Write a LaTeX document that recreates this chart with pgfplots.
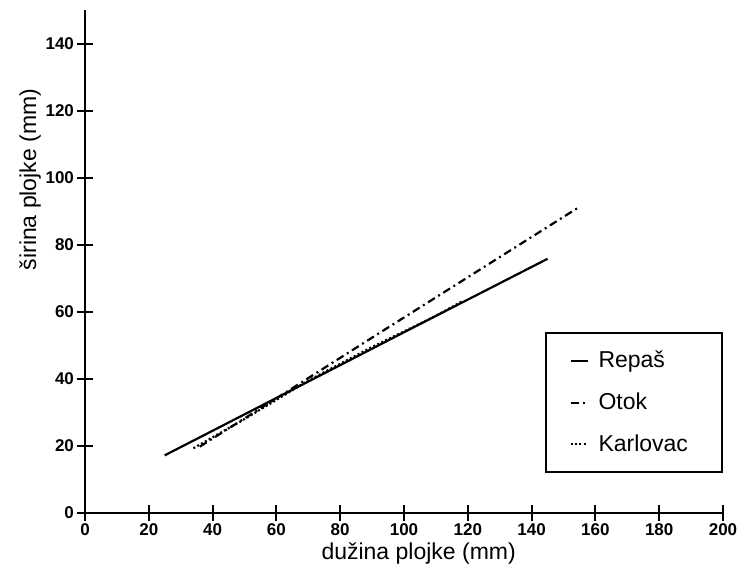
\documentclass[border=0pt]{standalone}
\usepackage{pgfplots}
\pgfplotsset{compat=1.18}
\usepackage{fontspec}
\setmainfont{Liberation Sans}

\begin{document}
\begin{tikzpicture}
\useasboundingbox (-42.5pt,-32pt) rectangle (329pt,256.5pt);
\begin{axis}[
    at={(0,0)}, anchor=south west,
    scale only axis,
    width=319pt, height=251.5pt,
    xmin=0, xmax=200, ymin=0, ymax=150,
    axis lines=left,
    axis line style={-, line width=1pt},
    xtick={0,20,...,200},
    ytick={0,20,...,140},
    tick align=center,
    major tick length=8pt,
    tick style={line width=1pt, black},
    /pgf/number format/assume math mode=true,
    ticklabel style={font=\bfseries\fontsize{8.5}{10}\selectfont},
    xticklabel style={yshift=2pt},
    yticklabel style={xshift=2pt},
    xlabel={dužina plojke (mm)},
    ylabel={širina plojke (mm)},
    label style={font=\fontsize{11.5}{13}\selectfont},
    xlabel style={at={(axis description cs:0.523,-0.08)}, anchor=center},
    ylabel style={at={(axis description cs:-0.086,0.663)}, anchor=center},
    clip=false,
    legend cell align=left,
    legend style={at={(axis description cs:1,0.0795)}, anchor=south east,
        draw=black, line width=1pt, inner xsep=12pt, inner ysep=7pt,
        row sep=7pt, font=\fontsize{11.5}{13}\selectfont,
        nodes={inner xsep=5pt}},
    legend image code/.code={\draw[#1, line width=1pt] (0pt,0pt) -- (8.5pt,0pt);},
]
\addplot[black, line width=1.1pt] coordinates {
    (25,17.2) (60,34.3) (100,53.9) (145,75.8)
};
\addplot[black, line width=1.1pt, dash pattern=on 4pt off 2pt on 1pt off 2pt] coordinates {
    (36,19.8) (60,34.2) (92.5,53.8) (120,70.3) (155,91.3)
};
\addplot[black, line width=1.1pt, dash pattern=on 1pt off 1.2pt] coordinates {
    (34,19.3) (50,28) (70,39.5) (90,49.5) (110,58.8) (118,63)
};
\legend{Repaš, Otok, Karlovac}
\end{axis}
\end{tikzpicture}
\end{document}
